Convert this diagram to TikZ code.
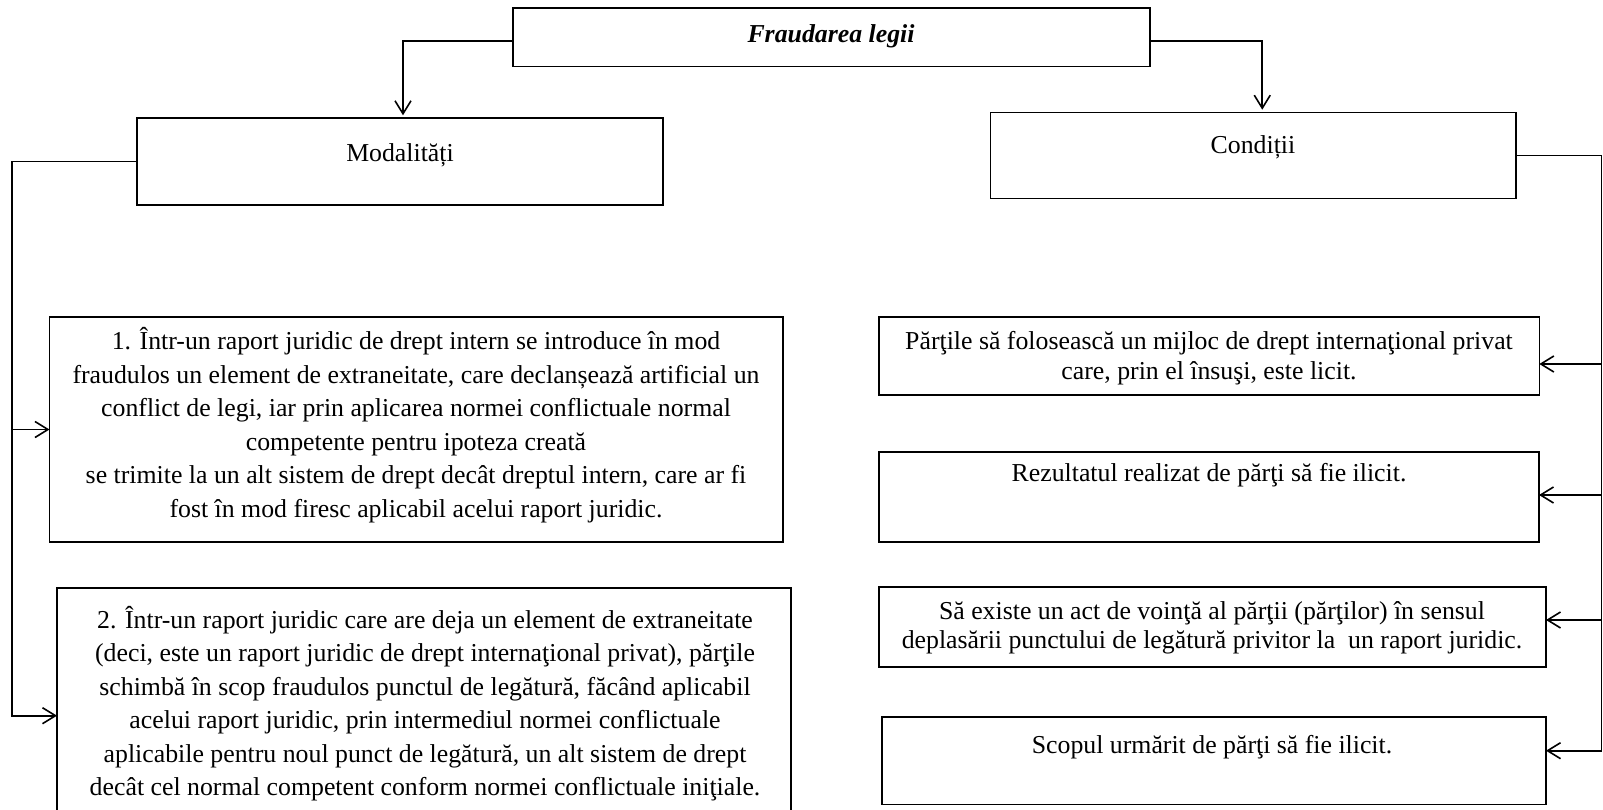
\documentclass[tikz,border=0pt]{standalone}
\usepackage{fontspec}
\setmainfont{Liberation Serif}
\usetikzlibrary{arrows.meta}
\begin{document}
\begin{tikzpicture}[x=1pt,y=-1pt,
  box/.style={draw, line width=1.6pt, rectangle, inner sep=0pt, outer sep=0pt},
  txtL/.style={align=center, inner sep=0pt, font=\fontsize{25.8}{33.5}\selectfont},
  txtR/.style={align=center, inner sep=0pt, font=\fontsize{25.8}{29.5}\selectfont},
  conn/.style={line width=1.6pt},
  arr/.style={conn, -{Straight Barb[length=13pt,width=16pt,line width=1.6pt]}},
]
\useasboundingbox (0,0) rectangle (1603,810);
% boxes
\node[box, minimum width=637pt, minimum height=58.4pt] (top) at (831.5,37.5) {};
\node[box, minimum width=526pt, minimum height=86.7pt] (mod) at (400,161.65) {};
\node[box, minimum width=525.5pt, minimum height=85.8pt] (cond) at (1253.25,155.6) {};
\node[box, minimum width=733.5pt, minimum height=225pt] (b1) at (416.25,429.5) {};
\node[box, minimum width=734pt, minimum height=242pt] (b2) at (424,709) {};
\node[box, minimum width=660.3pt, minimum height=78.3pt] (r1) at (1209.15,355.85) {};
\node[box, minimum width=660pt, minimum height=90pt] (r2) at (1209,496.7) {};
\node[box, minimum width=667pt, minimum height=80pt] (r3) at (1212.5,627) {};
\node[box, minimum width=664.3pt, minimum height=87.6pt] (r4) at (1213.85,760.5) {};
% texts
\node[txtL, font=\fontsize{25.8}{30}\selectfont\bfseries\itshape] (topt) at (831,36) {Fraudarea legii};
\node[txtL] (modt) at (400,155) {Modalități};
\node[txtL] (condt) at (1253,147) {Condiții};
\node[txtL] (b1t) at (416,425) {1. Într-un raport juridic de drept intern se introduce în mod\\
fraudulos un element de extraneitate, care declanșează artificial un\\
conflict de legi, iar prin aplicarea normei conflictuale normal\\
competente pentru ipoteza creată\\
se trimite la un alt sistem de drept decât dreptul intern, care ar fi\\
fost în mod firesc aplicabil acelui raport juridic.};
\node[txtL] (b2t) at (425,703.5) {2. Într-un raport juridic care are deja un element de extraneitate\\
(deci, este un raport juridic de drept internaţional privat), părţile\\
schimbă în scop fraudulos punctul de legătură, făcând aplicabil\\
acelui raport juridic, prin intermediul normei conflictuale\\
aplicabile pentru noul punct de legătură, un alt sistem de drept\\
decât cel normal competent conform normei conflictuale iniţiale.};
\node[txtR] (r1t) at (1209,358) {Părţile să folosească un mijloc de drept internaţional privat\\
care, prin el însuşi, este licit.};
\node[txtR] (r2t) at (1209,475) {Rezultatul realizat de părţi să fie ilicit.};
\node[txtR] (r3t) at (1212,628) {Să existe un act de voinţă al părţii (părţilor) în sensul\\
deplasării punctului de legătură privitor la\ \ un raport juridic.};
\node[txtR] (r4t) at (1212,747) {Scopul urmărit de părţi să fie ilicit.};
% connectors
\coordinate (lb) at (11.7,0);
\coordinate (rb) at (1601.5,0);
\coordinate (b2y) at (0,715.7);
\coordinate (r1y) at (0,364);
\coordinate (r2y) at (0,495);
\coordinate (r3y) at (0,620);
\coordinate (r4y) at (0,750.7);
\draw[arr, shorten >=3pt] ([yshift=-3.5pt]top.west) -| ([xshift=3pt]mod.north);
\draw[arr, shorten >=3pt] ([yshift=-3.5pt]top.east) -| ([xshift=9pt]cond.north);
\draw[arr] (mod.west) -| (lb |- b2y) -- (b2.west |- b2y);
\draw[arr] (lb |- b1.west) -- (b1.west);
\draw[arr] (cond.east) -| (rb |- r4y) -- (r4.east |- r4y);
\draw[arr] (rb |- r1y) -- (r1.east |- r1y);
\draw[arr] (rb |- r2y) -- (r2.east |- r2y);
\draw[arr] (rb |- r3y) -- (r3.east |- r3y);
\end{tikzpicture}
\end{document}
